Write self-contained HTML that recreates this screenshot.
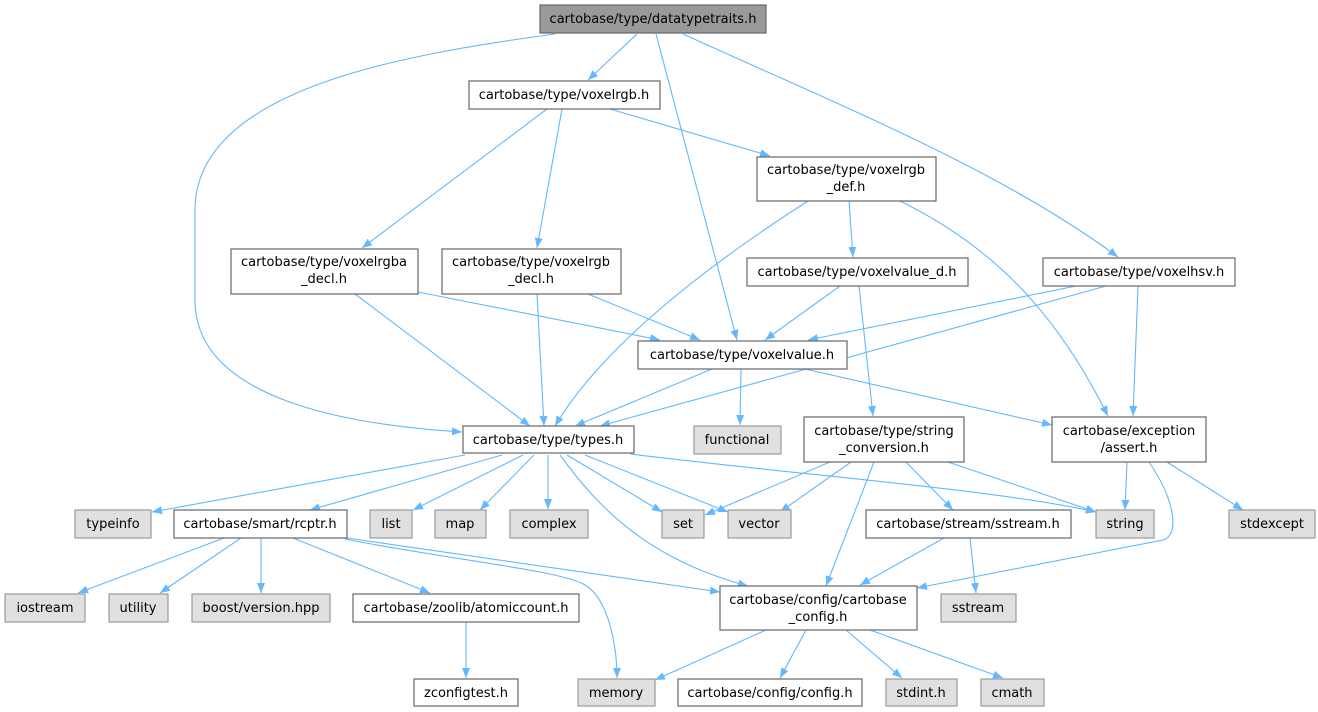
<!DOCTYPE html>
<html><head><meta charset="utf-8"><style>
html,body{margin:0;padding:0;background:#fff;}
svg{display:block}
text{font-family:"DejaVu Sans","Liberation Sans",sans-serif;font-size:13px;fill:#000;text-anchor:middle}
.e{fill:none;stroke:#63b8ff;stroke-width:1.1}
.w{fill:#fff;stroke:#666;stroke-width:1.2}
.g{fill:#e0e0e0;stroke:#999;stroke-width:1.2}
</style></head><body>
<svg width="1318" height="712" viewBox="0 0 1318 712" xmlns="http://www.w3.org/2000/svg">
<defs><marker id="a" viewBox="0 0 10 10" refX="10" refY="5" markerWidth="10" markerHeight="10" markerUnits="userSpaceOnUse" orient="auto"><path d="M0,1 L10,5 L0,9 z" fill="#63b8ff"/></marker></defs>
<g class="e" marker-end="url(#a)">
<path d="M555,34 C400,55 195,90 195,210 L195,300 C195,400 350,425 462,432"/>
<path d="M637,34 L588,80"/>
<path d="M656,34 L737,340"/>
<path d="M683,34 C850,110 1000,170 1118,257"/>
<path d="M547,109 L362,248"/>
<path d="M562,109 L537,248"/>
<path d="M610,109 L770,156"/>
<path d="M355,294 L530,426"/>
<path d="M418,292 L660,340"/>
<path d="M537,294 L544,426"/>
<path d="M588,294 L700,340"/>
<path d="M808,201 C700,270 600,350 555,426"/>
<path d="M849,201 L853,257"/>
<path d="M900,201 C1000,250 1060,320 1108,416"/>
<path d="M840,286 L765,340"/>
<path d="M859,286 L873,416"/>
<path d="M1076,286 L808,340"/>
<path d="M1106,286 L600,426"/>
<path d="M1138,286 L1133,416"/>
<path d="M712,369 L575,426"/>
<path d="M741,369 L740,425"/>
<path d="M805,369 L1052,425"/>
<path d="M465,455 L152,512"/>
<path d="M502,455 L310,510"/>
<path d="M523,455 L413,510"/>
<path d="M534,455 L480,510"/>
<path d="M548,455 L548,509"/>
<path d="M567,455 L662,512"/>
<path d="M585,455 L728,512"/>
<path d="M630,454 C800,475 1000,490 1096,512"/>
<path d="M560,455 C600,510 650,560 748,586"/>
<path d="M224,538 L78,593"/>
<path d="M241,538 L160,593"/>
<path d="M261,538 L261,593"/>
<path d="M293,538 L430,593"/>
<path d="M345,539 C450,560 560,570 585,585 C610,600 617,650 617,678"/>
<path d="M347,538 L720,592"/>
<path d="M466,622 L466,678"/>
<path d="M830,462 L705,515"/>
<path d="M851,462 L780,512"/>
<path d="M874,462 L826,586"/>
<path d="M906,462 L953,510"/>
<path d="M948,462 L1096,512"/>
<path d="M1127,462 L1125,510"/>
<path d="M1167,462 L1243,510"/>
<path d="M1149,462 C1175,500 1180,535 1163,540 L917,588"/>
<path d="M944,538 L860,585"/>
<path d="M970,538 L976,593"/>
<path d="M766,630 L655,680"/>
<path d="M806,630 L780,678"/>
<path d="M846,630 L902,678"/>
<path d="M870,630 L1003,678"/>
</g>
<rect x="540" y="5" width="226" height="28" fill="#999" stroke="#666" stroke-width="1.2"/><text x="653" y="23">cartobase/type/datatypetraits.h</text>
<rect class="w" x="469" y="81" width="191" height="28"/><text x="564" y="99">cartobase/type/voxelrgb.h</text>
<rect class="w" x="231" y="249" width="187" height="45"/><text x="324" y="266">cartobase/type/voxelrgba</text><text x="324" y="283">_decl.h</text>
<rect class="w" x="442" y="249" width="179" height="45"/><text x="531" y="266">cartobase/type/voxelrgb</text><text x="531" y="283">_decl.h</text>
<rect class="w" x="757" y="157" width="179" height="44"/><text x="846" y="174">cartobase/type/voxelrgb</text><text x="846" y="191">_def.h</text>
<rect class="w" x="747" y="258" width="221" height="28"/><text x="857" y="276">cartobase/type/voxelvalue_d.h</text>
<rect class="w" x="1043" y="258" width="192" height="28"/><text x="1139" y="276">cartobase/type/voxelhsv.h</text>
<rect class="w" x="638" y="341" width="209" height="28"/><text x="742" y="359">cartobase/type/voxelvalue.h</text>
<rect class="w" x="463" y="426" width="171" height="27"/><text x="548" y="444">cartobase/type/types.h</text>
<rect class="g" x="694" y="426" width="87" height="28"/><text x="737" y="444">functional</text>
<rect class="w" x="804" y="417" width="160" height="45"/><text x="884" y="435">cartobase/type/string</text><text x="884" y="452">_conversion.h</text>
<rect class="w" x="1052" y="417" width="154" height="45"/><text x="1129" y="435">cartobase/exception</text><text x="1129" y="452">/assert.h</text>
<rect class="g" x="75" y="510" width="76" height="28"/><text x="113" y="528">typeinfo</text>
<rect class="w" x="174" y="510" width="173" height="28"/><text x="260" y="528">cartobase/smart/rcptr.h</text>
<rect class="g" x="370" y="510" width="42" height="28"/><text x="391" y="528">list</text>
<rect class="g" x="435" y="510" width="51" height="28"/><text x="460" y="528">map</text>
<rect class="g" x="510" y="510" width="78" height="28"/><text x="549" y="528">complex</text>
<rect class="g" x="662" y="510" width="42" height="28"/><text x="683" y="528">set</text>
<rect class="g" x="728" y="510" width="63" height="28"/><text x="759" y="528">vector</text>
<rect class="w" x="866" y="510" width="205" height="28"/><text x="968" y="528">cartobase/stream/sstream.h</text>
<rect class="g" x="1096" y="510" width="58" height="28"/><text x="1125" y="528">string</text>
<rect class="g" x="1229" y="510" width="86" height="28"/><text x="1272" y="528">stdexcept</text>
<rect class="g" x="5" y="594" width="80" height="28"/><text x="45" y="612">iostream</text>
<rect class="g" x="109" y="594" width="59" height="28"/><text x="138" y="612">utility</text>
<rect class="g" x="192" y="594" width="138" height="28"/><text x="261" y="612">boost/version.hpp</text>
<rect class="w" x="353" y="594" width="226" height="28"/><text x="466" y="612">cartobase/zoolib/atomiccount.h</text>
<rect class="w" x="720" y="586" width="197" height="44"/><text x="818" y="604">cartobase/config/cartobase</text><text x="818" y="621">_config.h</text>
<rect class="g" x="941" y="594" width="75" height="28"/><text x="978" y="612">sstream</text>
<rect class="w" x="414" y="679" width="104" height="27"/><text x="466" y="697">zconfigtest.h</text>
<rect class="g" x="578" y="679" width="77" height="27"/><text x="616" y="697">memory</text>
<rect class="w" x="678" y="679" width="184" height="27"/><text x="770" y="697">cartobase/config/config.h</text>
<rect class="g" x="886" y="679" width="71" height="27"/><text x="921" y="697">stdint.h</text>
<rect class="g" x="981" y="679" width="63" height="27"/><text x="1012" y="697">cmath</text>
</svg>
</body></html>
